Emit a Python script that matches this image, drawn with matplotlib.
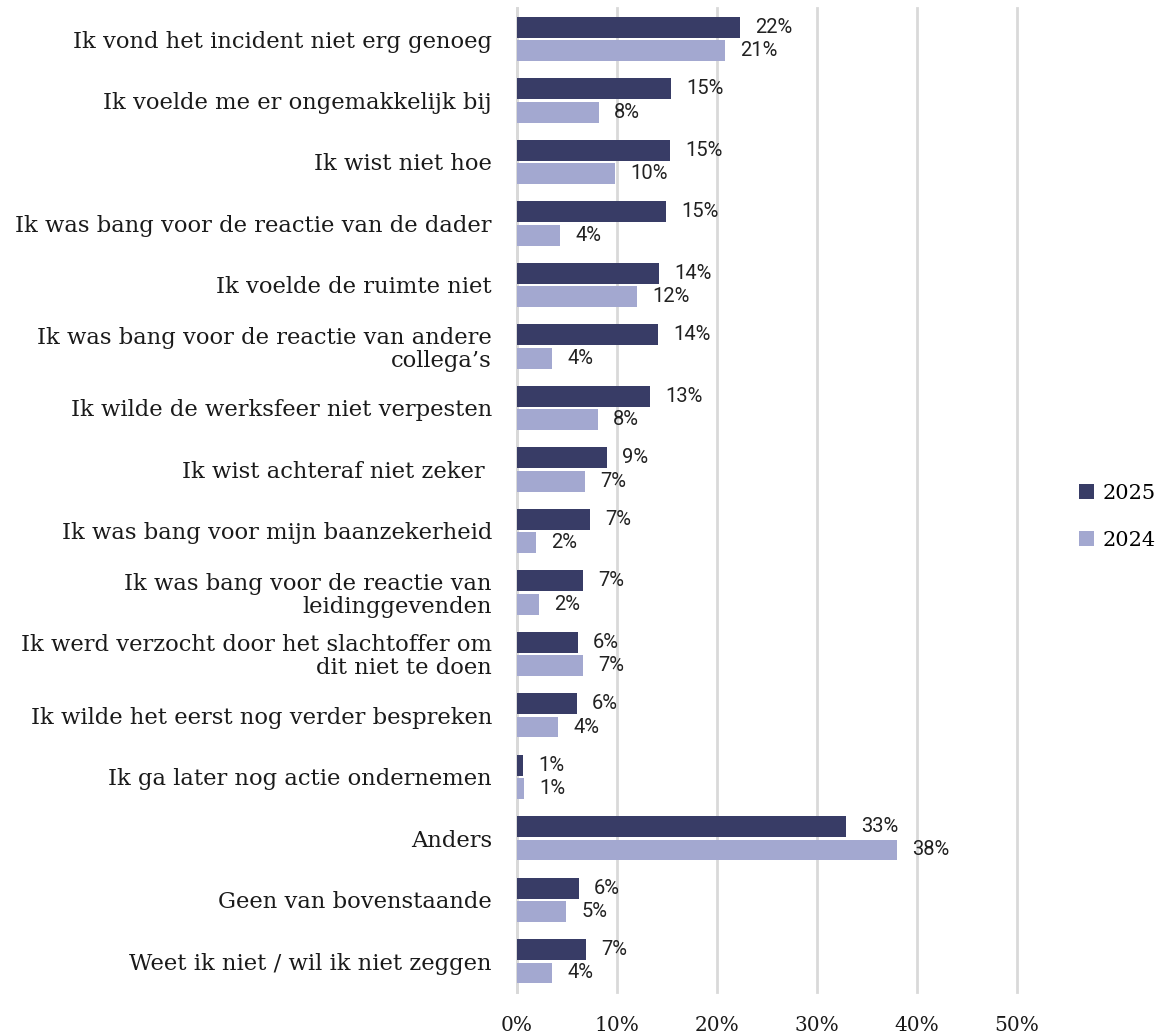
import matplotlib.pyplot as plt
import numpy as np

# categories (top to bottom) and shares per year, in %
categories = [
    "Ik vond het incident niet erg genoeg",
    "Ik voelde me er ongemakkelijk bij",
    "Ik wist niet hoe",
    "Ik was bang voor de reactie van de dader",
    "Ik voelde de ruimte niet",
    "Ik was bang voor de reactie van andere\ncollega\u2019s",
    "Ik wilde de werksfeer niet verpesten",
    "Ik wist achteraf niet zeker ",
    "Ik was bang voor mijn baanzekerheid",
    "Ik was bang voor de reactie van\nleidinggevenden",
    "Ik werd verzocht door het slachtoffer om\ndit niet te doen",
    "Ik wilde het eerst nog verder bespreken",
    "Ik ga later nog actie ondernemen",
    "Anders",
    "Geen van bovenstaande",
    "Weet ik niet / wil ik niet zeggen",
]
vals_2025 = [22.3, 15.4, 15.3, 14.9, 14.2, 14.1, 13.3, 9.0, 7.3, 6.6, 6.1, 6.0, 0.6, 32.9, 6.2, 6.9]
vals_2024 = [20.8, 8.2, 9.8, 4.3, 12.0, 3.5, 8.1, 6.8, 1.9, 2.2, 6.6, 4.1, 0.7, 38.0, 4.9, 3.5]
years = ["2025", "2024"]
colors = ["#383C66", "#A3A8D0"]
xticks = [0, 10, 20, 30, 40, 50]

serif = "DejaVu Serif"
sans = "Roboto"

fig = plt.figure(figsize=(11.68, 10.34), dpi=100)
ax = fig.add_axes([0.4426, 0.0406, 0.4281, 0.9514])

y = np.arange(len(categories))
h = 0.34
for i, (vals, yr, c) in enumerate(zip([vals_2025, vals_2024], years, colors)):
    pos = y - h / 2 - 0.02 if i == 0 else y + h / 2 + 0.02
    ax.barh(pos, vals, height=h, color=c, label=yr, zorder=3)
    for p, v in zip(pos, vals):
        ax.annotate(f"{v:.0f}%", (v, p), xytext=(11, 0), textcoords="offset points",
                    va="center", ha="left", fontsize=14.5, family=sans, color="#222222")

ax.set_ylim(len(categories) - 0.5, -0.5)
ax.set_xlim(0, 50)
ax.set_yticks(y)
ax.set_yticklabels(categories, family=serif, fontsize=16.3, color="#1a1a1a",
                   linespacing=1.05)
ax.set_xticks(xticks)
ax.set_xticklabels([f"{t}%" for t in xticks], family=serif, fontsize=14.5, color="#1a1a1a")
ax.tick_params(axis="y", length=0, pad=18)
ax.tick_params(axis="x", length=0, pad=17)
ax.grid(axis="x", color="#D9D9D9", linewidth=2, zorder=0)
for gl in ax.get_xgridlines():
    gl.set_clip_on(False)
for s in ["top", "right", "bottom"]:
    ax.spines[s].set_visible(False)
ax.spines["left"].set_color("#D9D9D9")
ax.spines["left"].set_linewidth(2)

fig.legend(loc="center left", bbox_to_anchor=(0.908, 0.5), frameon=False,
           prop={"family": serif, "size": 15}, handlelength=0.7, handleheight=0.7,
           handletextpad=0.4, labelspacing=1.35)

fig.savefig("out.png", dpi=100)
